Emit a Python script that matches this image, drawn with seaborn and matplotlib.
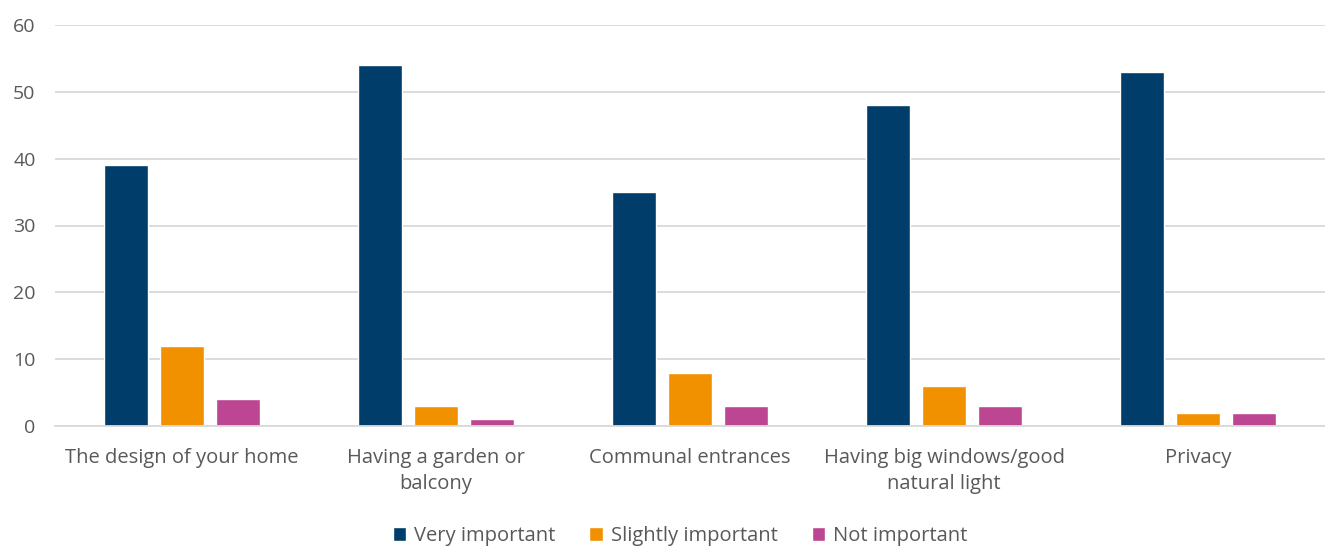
import matplotlib
matplotlib.use("Agg")
import matplotlib.pyplot as plt
import seaborn as sns
import pandas as pd

categories = ["The design of your home", "Having a garden or\nbalcony", "Communal entrances",
              "Having big windows/good\nnatural light", "Privacy"]
series_names = ["Very important", "Slightly important", "Not important"]
very_important = [39, 54, 35, 48, 53]
slightly_important = [12, 3, 8, 6, 2]
not_important = [4, 1, 3, 3, 2]
colors = ["#003D6B", "#F29100", "#BD4692"]
y_ticks = [0, 10, 20, 30, 40, 50, 60]

rows = []
for name, vals in zip(series_names, [very_important, slightly_important, not_important]):
    for c, v in zip(categories, vals):
        rows.append({"category": c, "series": name, "value": v})
df = pd.DataFrame(rows)

sns.set_theme(style="white")
plt.rcParams["font.family"] = ["Open Sans", "DejaVu Sans"]

fig = plt.figure(figsize=(13.25, 5.47), dpi=100)
ax = fig.add_axes([55/1325, 1-426/547, 1-55/1325, (426-25)/547])

sns.barplot(data=df, x="category", y="value", hue="series", order=categories,
            hue_order=series_names, palette=colors, width=0.661, gap=0.214,
            saturation=1, ax=ax, legend=True)

ax.set_ylim(0, 60)
ax.set_xlim(-0.5, 4.5)
ax.set_yticks(y_ticks)
ax.yaxis.grid(True, color="#D9D9D9", linewidth=1.3)
ax.set_axisbelow(True)
for s in ["top", "right", "left"]:
    ax.spines[s].set_visible(False)
ax.spines["bottom"].set_color("#D9D9D9")
ax.spines["bottom"].set_linewidth(1.3)
ax.set_xlabel("")
ax.set_ylabel("")
ax.tick_params(axis="both", length=0, colors="#595959")
ax.tick_params(axis="x", pad=16, labelsize=14.5)
ax.tick_params(axis="y", pad=14, labelsize=14)
for lbl in ax.get_xticklabels():
    lbl.set_linespacing(1.4)
    lbl.set_color("#595959")
for lbl in ax.get_yticklabels():
    lbl.set_color("#595959")

ax.get_legend().remove()
handles, labels = ax.get_legend_handles_labels()
leg = fig.legend(handles, labels, loc="center", bbox_to_anchor=(680/1325, 1-536/547),
                 ncol=3, frameon=False, fontsize=14.5, handlelength=0.65, handleheight=0.65,
                 handletextpad=0.4, columnspacing=1.7)
for t in leg.get_texts():
    t.set_color("#595959")

fig.savefig("out.png", dpi=100)
